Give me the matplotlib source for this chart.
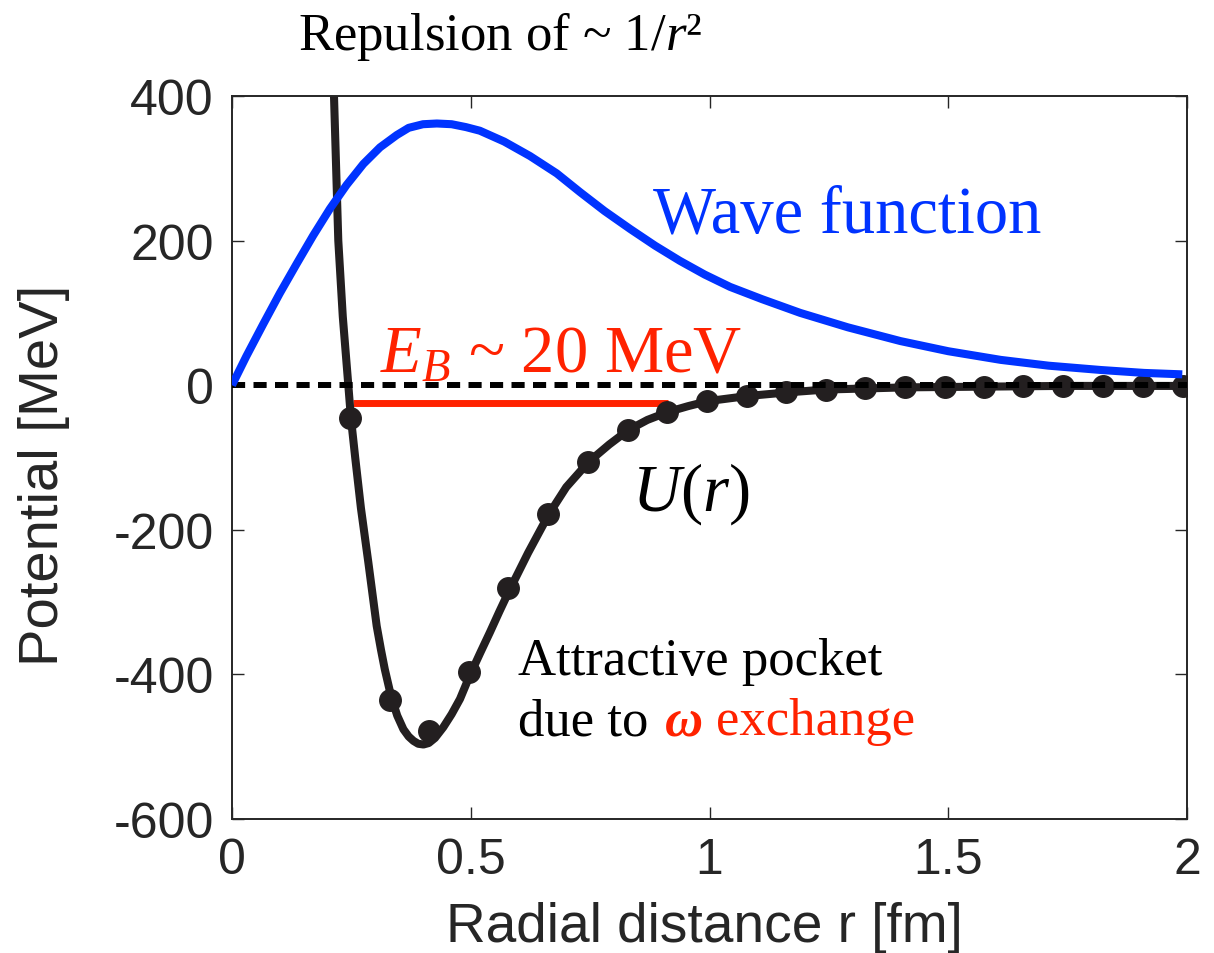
import matplotlib
matplotlib.use("Agg")
import matplotlib.pyplot as plt

plt.rcParams["font.family"] = "Liberation Sans"
plt.rcParams["axes.unicode_minus"] = False
plt.rcParams["mathtext.fontset"] = "custom"
plt.rcParams["mathtext.rm"] = "Liberation Serif"
plt.rcParams["mathtext.it"] = "Liberation Serif:italic"
plt.rcParams["mathtext.bf"] = "Liberation Serif:bold"

# U(r) potential curve (fm, MeV)
r_curve = [0.205, 0.2136, 0.2226, 0.232, 0.2436, 0.249, 0.258, 0.270, 0.2855,
           0.303, 0.312, 0.320, 0.333, 0.346, 0.359, 0.370, 0.380, 0.390,
           0.401, 0.412, 0.425, 0.4426, 0.460, 0.4775, 0.497, 0.520, 0.540,
           0.560, 0.580, 0.620, 0.664, 0.700, 0.747, 0.790, 0.830, 0.870,
           0.913, 0.955, 0.997, 1.079, 1.162, 1.244, 1.328, 1.410, 1.493,
           1.575, 1.657, 1.740, 1.822, 1.906, 1.990]
u_curve = [640, 400, 200, 95, 0, -45, -100, -170, -245,
           -333, -366, -393, -430, -457, -476, -486, -492, -496,
           -497, -495, -488, -473, -455, -434, -403, -370, -342,
           -313, -285, -232, -178, -141, -106, -82, -62, -48,
           -37, -29, -22, -15, -10, -6, -4.5, -3, -2.5,
           -2, -1.5, -1, -1, -1, -1]

# sampled points on U(r)
r_dots = [0.2475, 0.331, 0.413, 0.496, 0.579, 0.662, 0.746, 0.829, 0.911,
          0.995, 1.078, 1.160, 1.244, 1.326, 1.409, 1.493, 1.575, 1.657,
          1.741, 1.825, 1.908, 1.991]
u_dots = [-45, -435, -479, -397, -280, -178, -106, -62, -37,
          -22, -15, -10, -6, -4.5, -3, -2.5, -2, -1.5,
          -1, -1, -1, -1]

# wave function (arbitrary units, drawn on the same scale)
r_wave = [0, 0.03, 0.065, 0.10, 0.1355, 0.17, 0.205, 0.24, 0.275, 0.31,
          0.345, 0.37, 0.40, 0.429, 0.46, 0.49, 0.519, 0.57, 0.624, 0.68,
          0.729, 0.78, 0.834, 0.886, 0.938, 0.99, 1.043, 1.11, 1.19, 1.29,
          1.40, 1.50, 1.61, 1.71, 1.82, 1.91, 1.99]
psi_wave = [0, 40, 84, 127, 168, 207, 244, 277, 306, 329,
            346, 356, 361, 362, 361, 357, 352, 337, 317, 293,
            267, 241, 216, 193, 172, 153, 136, 119, 100, 80,
            61, 47, 35, 27, 21, 17, 15]

# binding energy bar
r_bind = [0.254, 0.913]
e_bind = [-24, -24]

x_ticks = [0, 0.5, 1, 1.5, 2]
x_tick_labels = ["0", "0.5", "1", "1.5", "2"]
y_ticks = [-600, -400, -200, 0, 200, 400]
y_tick_labels = ["-600", "-400", "-200", "0", "200", "400"]

dark = "#231f20"
axis_col = "#262626"
blue = "#0033ff"
red = "#ff2200"

fig = plt.figure(figsize=(12.14, 9.54), dpi=100)
ax = fig.add_axes([0.1911, 0.1405, 0.7867, 0.7578])

ax.plot(r_wave, psi_wave, color=blue, lw=5.8, solid_capstyle="butt",
        solid_joinstyle="round", zorder=4)
ax.plot(r_curve, u_curve, color=dark, lw=5.8, solid_joinstyle="round",
        zorder=2)
ax.plot(r_bind, e_bind, color=red, lw=5.0, solid_capstyle="butt", zorder=1.5)
ax.plot(r_dots, u_dots, "o", color=dark, ms=15.5, zorder=3)
ax.axhline(0, color="black", lw=4.3, dashes=(2.2, 1.4), zorder=3.5)

ax.set_xlim(0, 2)
ax.set_ylim(-600, 400)
ax.set_xticks(x_ticks)
ax.set_xticklabels(x_tick_labels)
ax.set_yticks(y_ticks)
ax.set_yticklabels(y_tick_labels)
ax.tick_params(direction="in", length=8.5, width=1.0, top=True, right=True,
               labelsize=36, pad=13, colors=axis_col)
for s in ax.spines.values():
    s.set_linewidth(1.4)
    s.set_color(axis_col)

ax.set_xlabel("Radial distance r [fm]", fontsize=39.6, color=axis_col)
ax.set_ylabel("Potential [MeV]", fontsize=40.5, color=axis_col)
ax.xaxis.set_label_coords(0.495, -0.113)
ax.yaxis.set_label_coords(-0.170, 0.477)

serif = "Liberation Serif"
ax.text(0.882, 213, "Wave function", color=blue, fontsize=48, family=serif,
        va="baseline")
ax.text(0.31, 18, "$E_B$ ~ 20 MeV", color=red, fontsize=48, family=serif,
        va="baseline")
ax.text(0.838, -171.5, "$U(r)$", color="black", fontsize=48, family=serif,
        va="baseline")
ax.text(0.599, -400, "Attractive pocket", color="black", fontsize=38,
        family=serif, va="baseline")
t1 = ax.text(0.599, -483, "due to", color="black", fontsize=38,
             family=serif, va="baseline")
t2 = ax.annotate("ω", xy=(1, 0), xycoords=t1, xytext=(12, 0),
                 textcoords="offset points", color=red, fontsize=38,
                 family=serif, fontweight="bold", fontstyle="italic",
                 va="bottom", ha="left")
ax.annotate("exchange", xy=(1, 0), xycoords=t2, xytext=(9, 0),
            textcoords="offset points", color=red, fontsize=38,
            family=serif, va="bottom", ha="left")
ax.text(0.138, 465, "Repulsion of ~ 1/$r$²", color="black", fontsize=38,
        family=serif, va="baseline", clip_on=False)

fig.savefig("out.png", dpi=100)
